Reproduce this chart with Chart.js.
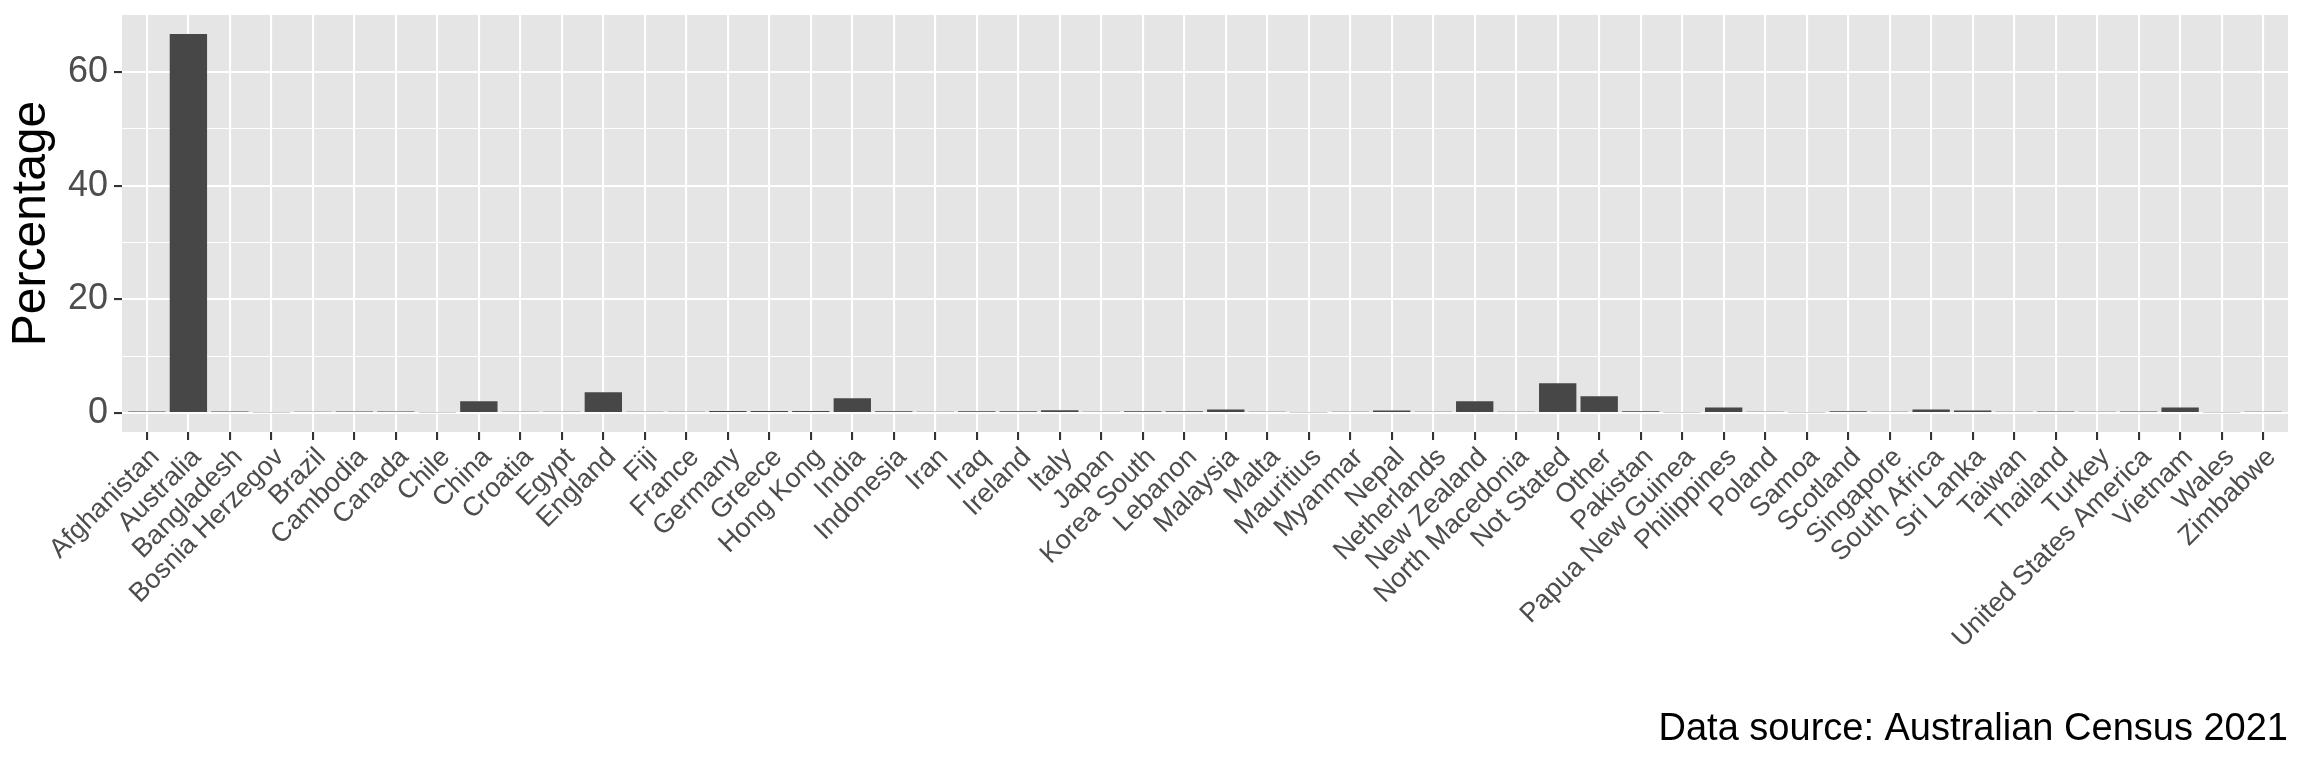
<!DOCTYPE html>
<html>
<head>
<meta charset="utf-8">
<script src="https://cdn.jsdelivr.net/npm/chart.js@4/dist/chart.umd.min.js"></script>
<style>
  html, body { margin: 0; padding: 0; background: #ffffff; }
  canvas { display: block; }
</style>
</head>
<body>
<canvas id="birthplace-graph" width="2304" height="768"></canvas>
<script>
// country of birth, share of people (%)
const countries = ['Afghanistan', 'Australia', 'Bangladesh', 'Bosnia Herzegov', 'Brazil', 'Cambodia',
    'Canada', 'Chile', 'China', 'Croatia', 'Egypt', 'England', 'Fiji', 'France', 'Germany', 'Greece',
    'Hong Kong', 'India', 'Indonesia', 'Iran', 'Iraq', 'Ireland', 'Italy', 'Japan', 'Korea South',
    'Lebanon', 'Malaysia', 'Malta', 'Mauritius', 'Myanmar', 'Nepal', 'Netherlands', 'New Zealand',
    'North Macedonia', 'Not Stated', 'Other', 'Pakistan', 'Papua New Guinea', 'Philippines', 'Poland',
    'Samoa', 'Scotland', 'Singapore', 'South Africa', 'Sri Lanka', 'Taiwan', 'Thailand', 'Turkey',
    'United States America', 'Vietnam', 'Wales', 'Zimbabwe'];

const percentage = [0.24, 66.7, 0.24, 0.12, 0.22, 0.24,
    0.24, 0.12, 2.05, 0.22, 0.22, 3.64, 0.22, 0.22, 0.34, 0.34,
    0.34, 2.58, 0.32, 0.22, 0.32, 0.32, 0.47, 0.2, 0.32,
    0.32, 0.62, 0.22, 0.12, 0.22, 0.45, 0.22, 2.05,
    0.22, 5.22, 2.93, 0.32, 0.12, 0.97, 0.22,
    0.12, 0.3, 0.22, 0.6, 0.42, 0.22, 0.28, 0.22,
    0.28, 0.95, 0.12, 0.22];

const yMajorTicks = [0, 20, 40, 60];
const yGridValues = [0, 10, 20, 30, 40, 50, 60];

const fontFamily = '"Liberation Sans", Arial, Helvetica, sans-serif';

// grey panel behind the plot, like ggplot
const panelBackground = {
    id: 'panelBackground',
    beforeDraw(chart) {
        const a = chart.chartArea;
        const ctx = chart.ctx;
        ctx.save();
        ctx.fillStyle = '#E5E5E5';
        ctx.fillRect(a.left, a.top, a.right - a.left, a.bottom - a.top);
        ctx.restore();
    }
};

let ctx = document.getElementById('birthplace-graph').getContext('2d');

let birthplaceChart = new Chart(ctx, {
    type: 'bar',
    data: {
        datasets: [{
            label: 'Percentage',
            data: percentage.map((v, i) => ({x: i, y: v})),
            backgroundColor: '#474747',
            borderWidth: 0,
            barPercentage: 0.9,
            categoryPercentage: 1.0
        }]
    },
    options: {
        responsive: false,
        animation: false,
        layout: {
            padding: {left: 0, right: 16, top: 15, bottom: 0}
        },
        plugins: {
            legend: {display: false},
            tooltip: {enabled: false},
            title: {
                display: true,
                text: 'Data source: Australian Census 2021',
                position: 'bottom',
                align: 'end',
                color: '#000000',
                font: {family: fontFamily, size: 38, weight: 'normal', lineHeight: 1.2},
                padding: {top: 0, bottom: 16}
            }
        },
        scales: {
            x: {
                type: 'linear',
                offset: false,
                min: -0.6,
                max: countries.length - 1 + 0.6,
                afterBuildTicks: (axis) => {
                    axis.ticks = countries.map((c, i) => ({value: i}));
                },
                afterFit: (axis) => {
                    axis.height = 768 - 432 - 61.6;
                    axis.paddingLeft = 0;
                    axis.paddingRight = 0;
                },
                border: {display: false},
                grid: {
                    offset: false,
                    color: '#FFFFFF',
                    lineWidth: 2.1,
                    tickColor: '#333333',
                    tickWidth: 2.1,
                    tickLength: 8
                },
                ticks: {
                    autoSkip: false,
                    maxRotation: 45,
                    minRotation: 45,
                    padding: 3.5,
                    labelOffset: 8.5,
                    color: '#4D4D4D',
                    font: {family: fontFamily, size: 27, lineHeight: 1.0},
                    callback: (value) => countries[value]
                }
            },
            y: {
                min: -3.35,
                max: 70.05,
                afterBuildTicks: (axis) => {
                    axis.ticks = yGridValues.map(v => ({value: v}));
                },
                afterFit: (axis) => {
                    axis.width = 122;
                    axis.paddingTop = 0;
                    axis.paddingBottom = 0;
                },
                border: {display: false},
                grid: {
                    color: '#FFFFFF',
                    lineWidth: (c) => yMajorTicks.includes(c.tick.value) ? 2.1 : 1.1,
                    tickColor: (c) => yMajorTicks.includes(c.tick.value) ? '#333333' : 'rgba(0,0,0,0)',
                    tickWidth: 2.1,
                    tickLength: 8
                },
                ticks: {
                    padding: 6,
                    color: '#4D4D4D',
                    font: {family: fontFamily, size: 36},
                    callback: (value) => yMajorTicks.includes(value) ? String(value) : ''
                },
                title: {
                    display: true,
                    text: 'Percentage',
                    color: '#000000',
                    font: {family: fontFamily, size: 48, lineHeight: 1.2},
                    padding: {top: 3, bottom: 0}
                }
            }
        }
    },
    plugins: [panelBackground]
});
</script>
</body>
</html>
